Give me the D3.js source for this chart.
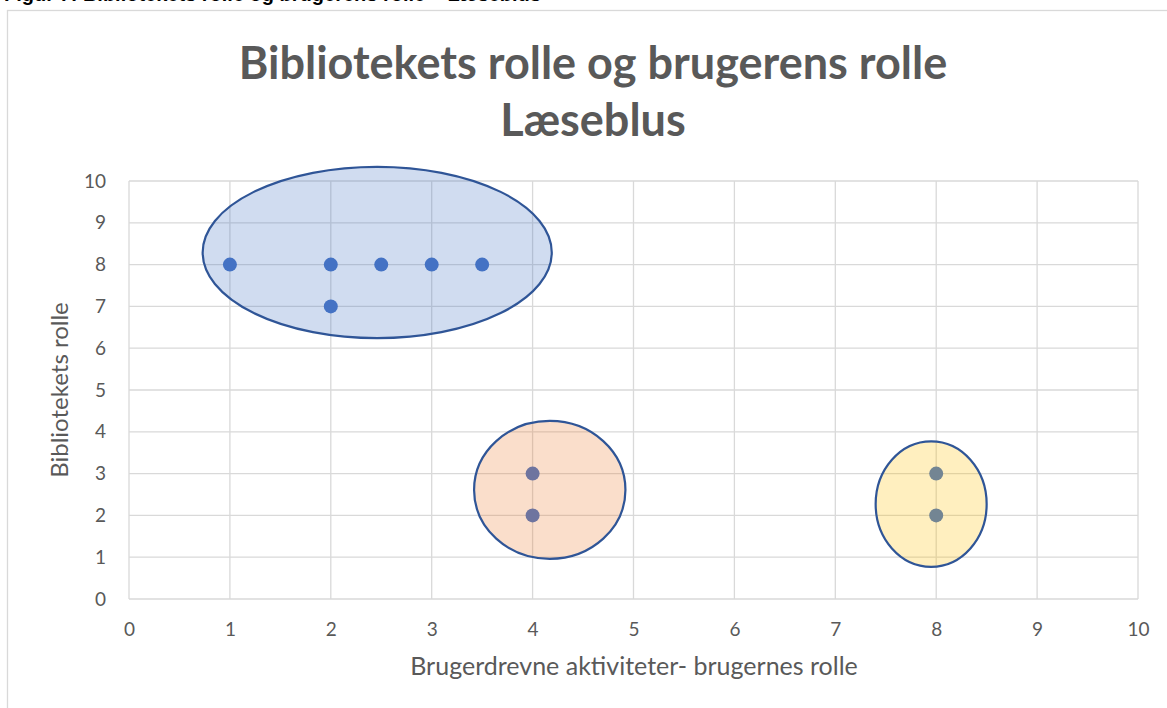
<!DOCTYPE html>
<html>
<head>
<meta charset="utf-8">
<script src="https://cdn.jsdelivr.net/npm/d3@7"></script>
<style>
  body { margin: 0; background: #fff; }
  svg { display: block; font-family: Lato, "Open Sans", sans-serif; }
</style>
</head>
<body>
<svg id="chart" width="1167" height="708"></svg>
<script>
// data
var xTicks = [0, 1, 2, 3, 4, 5, 6, 7, 8, 9, 10];
var yTicks = [0, 1, 2, 3, 4, 5, 6, 7, 8, 9, 10];
var pointX = [1, 2, 2.5, 3, 3.5, 2, 4, 4, 8, 8];
var pointY = [8, 8, 8, 8, 8, 7, 3, 2, 3, 2];
// groups drawn as ellipses over the points
var groupCx = [2.46, 4.17, 7.95];
var groupCy = [8.29, 2.61, 2.27];
var groupRx = [1.73, 0.75, 0.55];
var groupRy = [2.05, 1.65, 1.50];
var groupFill = ["#4472c4", "#ed7d31", "#ffc000"];
var titleLines = ["Bibliotekets rolle og brugerens rolle", "Læseblus"];
var xTitle = "Brugerdrevne aktiviteter- brugernes rolle";
var yTitle = "Bibliotekets rolle";
var caption = "Figur 7: Bibliotekets rolle og brugerens rolle – Læseblus";

var svg = d3.select("#chart");

var x = d3.scaleLinear().domain([0, 10]).range([129, 1138]);
var y = d3.scaleLinear().domain([0, 10]).range([599, 181]);

// caption above the chart, mostly cut off by the page top
svg.append("text")
  .attr("x", 4).attr("y", 1)
  .attr("font-family", "'Liberation Sans', Arial, sans-serif")
  .attr("font-weight", "bold")
  .attr("font-size", 20)
  .attr("fill", "#000")
  .text(caption);

// chart frame
svg.append("rect")
  .attr("x", 7.5).attr("y", 10.5)
  .attr("width", 1180).attr("height", 720)
  .attr("fill", "#fff")
  .attr("stroke", "#d9d9d9")
  .attr("stroke-width", 1.3);

// title
svg.selectAll(".title")
  .data(titleLines)
  .enter().append("text")
  .attr("class", "title")
  .attr("x", 593)
  .attr("y", function(d, i) { return 79 + i * 57; })
  .attr("text-anchor", "middle")
  .attr("font-weight", "bold")
  .attr("font-size", 45)
  .attr("fill", "#595959")
  .text(function(d) { return d; });

// gridlines
var g = svg.append("g");
g.selectAll(".vgrid")
  .data(xTicks)
  .enter().append("line")
  .attr("x1", function(d) { return x(d); })
  .attr("x2", function(d) { return x(d); })
  .attr("y1", y(0)).attr("y2", y(10))
  .attr("stroke", "#d9d9d9").attr("stroke-width", 1.3);
g.selectAll(".hgrid")
  .data(yTicks)
  .enter().append("line")
  .attr("y1", function(d) { return y(d); })
  .attr("y2", function(d) { return y(d); })
  .attr("x1", x(0)).attr("x2", x(10))
  .attr("stroke", "#d9d9d9").attr("stroke-width", 1.3);

// axes (labels only)
var xAxis = svg.append("g")
  .attr("transform", "translate(0," + y(0) + ")")
  .call(d3.axisBottom(x).tickValues(xTicks).tickSize(0).tickPadding(24));
var yAxis = svg.append("g")
  .attr("transform", "translate(" + x(0) + ",0)")
  .call(d3.axisLeft(y).tickValues(yTicks).tickSize(0).tickPadding(23));
[xAxis, yAxis].forEach(function(a) {
  a.select(".domain").remove();
  a.selectAll("text")
    .attr("font-family", "Lato, 'Open Sans', sans-serif")
    .attr("font-size", 19)
    .attr("fill", "#595959");
});

// points
svg.append("g").selectAll("circle")
  .data(pointX)
  .enter().append("circle")
  .attr("cx", function(d) { return x(d); })
  .attr("cy", function(d, i) { return y(pointY[i]); })
  .attr("r", 7)
  .attr("fill", "#4472c4");

// group ellipses
svg.append("g").selectAll("ellipse")
  .data(groupCx)
  .enter().append("ellipse")
  .attr("cx", function(d) { return x(d); })
  .attr("cy", function(d, i) { return y(groupCy[i]); })
  .attr("rx", function(d, i) { return x(groupRx[i]) - x(0); })
  .attr("ry", function(d, i) { return y(0) - y(groupRy[i]); })
  .attr("fill", function(d, i) { return groupFill[i]; })
  .attr("fill-opacity", 0.25)
  .attr("stroke", "#2f5597")
  .attr("stroke-width", 2.2);

// axis titles
svg.append("text")
  .attr("x", 634).attr("y", 675)
  .attr("text-anchor", "middle")
  .attr("font-size", 25)
  .attr("fill", "#595959")
  .text(xTitle);
svg.append("text")
  .attr("transform", "translate(68,390) rotate(-90)")
  .attr("text-anchor", "middle")
  .attr("font-size", 24)
  .attr("fill", "#595959")
  .text(yTitle);
</script>
</body>
</html>
